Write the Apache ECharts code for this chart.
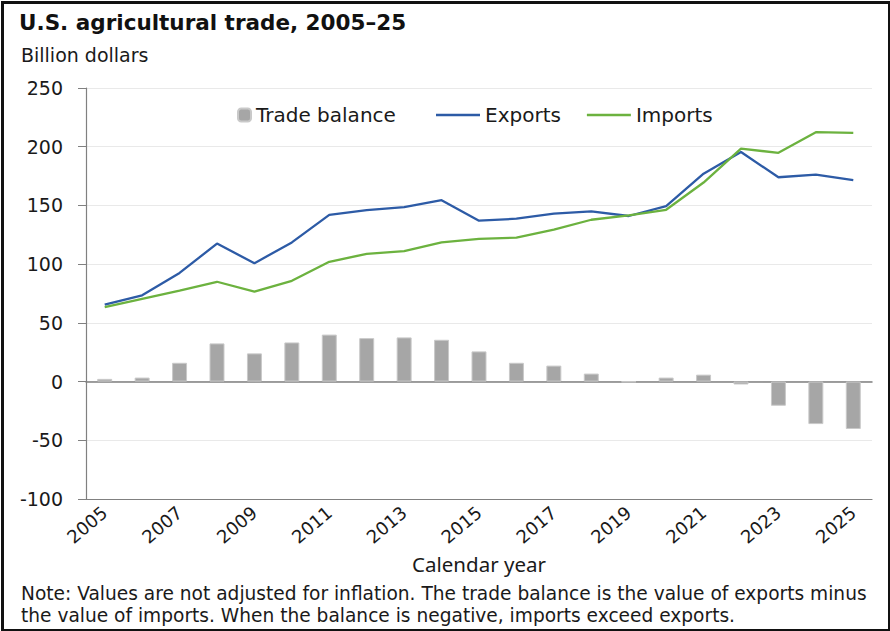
<!DOCTYPE html>
<html><head><meta charset="utf-8">
<script src="https://cdn.jsdelivr.net/npm/echarts@6/dist/echarts.min.js"></script>
<style>html,body{margin:0;padding:0;background:#fff}#c{width:890px;height:631px}</style>
</head><body><div id="c"></div>
<script>
const years = ['2005','2006','2007','2008','2009','2010','2011','2012','2013','2014','2015','2016','2017','2018','2019','2020','2021','2022','2023','2024','2025'];
const exportsVals = [65.5,73.5,92.5,117.5,100.8,118.5,142,146,148.5,154.5,137,138.7,143,145,141,149.5,177,195.5,174,176.3,171.5];
const importsVals = [63.5,70.5,77.5,85,76.6,85.8,102,108.8,111,118.5,121.5,122.6,129.4,137.8,141.5,146.3,169.5,198.3,194.8,212.4,211.8];
const balanceVals = [2.3,3.4,16,32.5,24,33.3,40,37,37.6,35.6,25.7,16,13.6,6.8,-0.4,3.4,5.9,-2.5,-20.6,-36.2,-40.4];
const yTicks = [-100,250,50];

const chart = echarts.init(document.getElementById('c'), null, {renderer:'svg'});
const txt = '#1a1a1a';
const wide = 'DejaVu Sans';
chart.setOption({
  animation:false,
  backgroundColor:'#fff',
  title:[
    {text:'U.S. agricultural trade, 2005–25', left:19, top:11, padding:0,
     textStyle:{fontFamily:wide, fontWeight:'bold', fontSize:21.5, color:'#111'}},
    {text:'Billion dollars', left:21, top:45, padding:0,
     textStyle:{fontFamily:wide, fontWeight:'normal', fontSize:19, color:txt}},
    {text:'Note: Values are not adjusted for inflation. The trade balance is the value of exports minus\nthe value of imports. When the balance is negative, imports exceed exports.',
     left:21, top:582, padding:0,
     textStyle:{fontFamily:wide, fontWeight:'normal', fontSize:18.6, lineHeight:22, color:txt}}
  ],
  legend:[
    {data:['Trade balance'], left:237, top:105, padding:0, itemWidth:13, itemHeight:13, itemGap:8,
     textStyle:{fontFamily:wide, fontSize:20, color:txt}},
    {data:[{name:'Exports', icon:'rect'},{name:'Imports', icon:'rect'}], left:436, top:105, padding:0,
     itemWidth:44, itemHeight:2.5, itemGap:26,
     textStyle:{fontFamily:wide, fontSize:20, color:txt}}
  ],
  grid:{left:86, right:18, top:88, bottom:132, containLabel:false},
  xAxis:[
    {type:'category', data:years, boundaryGap:true,
     axisLine:{onZero:false, lineStyle:{color:'#808080', width:1.2}},
     axisTick:{alignWithLabel:true, interval:0, length:7, lineStyle:{color:'#808080'}},
     axisLabel:{interval:1, rotate:40, fontFamily:wide, fontSize:18, color:txt, margin:11},
     name:'Calendar year', nameLocation:'middle', nameGap:52,
     nameTextStyle:{fontFamily:'Noto Sans', fontSize:20.5, color:txt}},
    {type:'category', data:years, position:'bottom',
     axisLine:{show:true, onZero:true, lineStyle:{color:'#808080', width:1.5}},
     axisTick:{show:false}, axisLabel:{show:false}}
  ],
  yAxis:{type:'value', min:yTicks[0], max:yTicks[1], interval:yTicks[2],
     axisLine:{show:true, lineStyle:{color:'#808080', width:1.2}},
     axisTick:{show:true, length:8, lineStyle:{color:'#808080'}},
     splitLine:{lineStyle:{color:'#e9e9e9', width:1.2}},
     axisLabel:{fontFamily:wide, fontSize:19, color:txt, margin:23}},
  series:[
    {name:'Trade balance', type:'bar', data:balanceVals, barWidth:'40%',
     itemStyle:{color:'#a6a6a6', borderColor:'#c9c9c9', borderWidth:1}},
    {name:'Exports', type:'line', data:exportsVals, symbol:'none',
     lineStyle:{color:'#2d5ba6', width:2.3}, itemStyle:{color:'#2d5ba6'}},
    {name:'Imports', type:'line', data:importsVals, symbol:'none',
     lineStyle:{color:'#6cb23f', width:2.3}, itemStyle:{color:'#6cb23f'}}
  ],
  graphic:[{type:'rect', left:0, top:0, z:100, silent:true,
     shape:{x:1.5, y:1.5, width:887, height:628}, style:{fill:'none', stroke:'#111', lineWidth:3}}]
});
</script></body></html>
